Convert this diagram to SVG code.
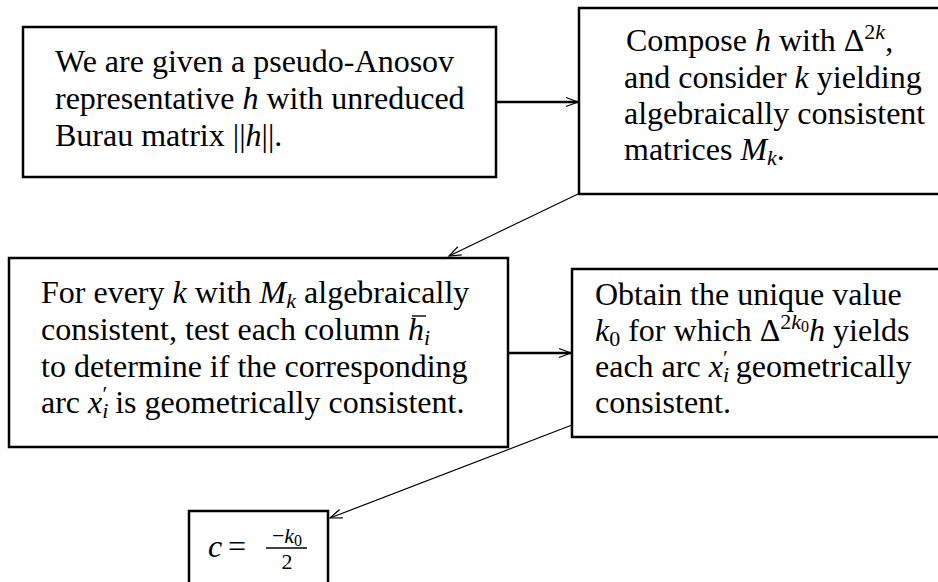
<svg xmlns="http://www.w3.org/2000/svg" width="938" height="582" viewBox="0 0 938 582">
<style>
.t{font-family:"Liberation Serif","Times New Roman",serif;font-size:32px;fill:#000}
.m{font-style:italic}
.s{font-size:22px}
.ss{font-size:16px}
.box{fill:#fff;stroke:#000;stroke-width:2.5}
.thick{stroke:#000;stroke-width:2.5;fill:none}
.thin{stroke:#000;stroke-width:1.2;fill:none}
.rule{stroke:#000;stroke-width:1.4}
</style>
<defs>
<marker id="ah" markerUnits="userSpaceOnUse" markerWidth="16" markerHeight="12" viewBox="-14 -6 16 12" refX="0" refY="0" orient="auto">
<path d="M-12,-4.5 L0,0 L-12,4.5" fill="none" stroke="#000" stroke-width="1.2"/>
</marker>
</defs>
<rect width="938" height="582" fill="#fff"/>
<g id="node-given">
<rect class="box" x="23" y="27" width="473" height="150"/>
<text class="t" x="55" y="72">We are given a pseudo-Anosov</text>
<text class="t" x="55" y="109">representative <tspan class="m">h</tspan> with unreduced</text>
<text class="t" x="55" y="146">Burau matrix ||<tspan class="m">h</tspan>||.</text>
</g>
<g id="node-compose">
<rect class="box" x="579" y="8" width="370" height="186"/>
<text class="t" x="626" y="51">Compose <tspan class="m">h</tspan> with Δ<tspan class="s" dy="-12">2</tspan><tspan class="s m">k</tspan><tspan dy="12">,</tspan></text>
<text class="t" x="624" y="88">and consider <tspan class="m">k</tspan> yielding</text>
<text class="t" x="624" y="124">algebraically consistent</text>
<text class="t" x="624" y="160">matrices <tspan class="m">M</tspan><tspan class="s m" dy="5">k</tspan><tspan dy="-5">.</tspan></text>
</g>
<g id="node-test">
<rect class="box" x="9" y="258" width="499" height="189"/>
<text class="t" x="41" y="303">For every <tspan class="m">k</tspan> with <tspan class="m">M</tspan><tspan class="s m" dy="5">k</tspan><tspan dy="-5"> algebraically</tspan></text>
<text class="t" x="41" y="340">consistent, test each column <tspan class="m">h</tspan><tspan class="s m" dy="5">i</tspan></text>
<line class="rule" x1="412" y1="316" x2="426" y2="316"/>
<text class="t" x="41" y="377">to determine if the corresponding</text>
<text class="t" x="41" y="413">arc <tspan class="m">x</tspan><tspan class="s m" dy="5">i</tspan><tspan class="s" dx="-6" dy="-17">′</tspan><tspan dy="12"> is geometrically consistent.</tspan></text>
</g>
<g id="node-obtain">
<rect class="box" x="572" y="269" width="380" height="168"/>
<text class="t" x="595" y="305">Obtain the unique value</text>
<text class="t" x="595" y="341"><tspan class="m">k</tspan><tspan class="s" dy="5">0</tspan><tspan dy="-5"> for which Δ</tspan><tspan class="s" dy="-12">2</tspan><tspan class="s m">k</tspan><tspan class="ss" dy="3">0</tspan><tspan class="m" dy="9">h</tspan> yields</text>
<text class="t" x="595" y="377">each arc <tspan class="m">x</tspan><tspan class="s m" dy="5">i</tspan><tspan class="s" dx="-6" dy="-17">′</tspan><tspan dy="12"> geometrically</tspan></text>
<text class="t" x="595" y="413">consistent.</text>
</g>
<g id="node-result">
<rect class="box" x="189" y="511" width="139" height="90"/>
<text class="t m" x="208" y="557">c</text>
<text class="t" x="228" y="557">=</text>
<text class="t s" x="287" y="543" text-anchor="middle">−<tspan class="m">k</tspan><tspan class="ss" dy="3">0</tspan></text>
<line class="rule" x1="266" y1="548" x2="307" y2="548"/>
<text class="t s" x="287" y="569" text-anchor="middle">2</text>
</g>
<g id="connectors">
<line class="thick" x1="496" y1="102" x2="578" y2="102" marker-end="url(#ah)"/>
<line class="thin" x1="578" y1="194" x2="449" y2="256" marker-end="url(#ah)"/>
<line class="thick" x1="508" y1="353" x2="571" y2="353" marker-end="url(#ah)"/>
<line class="thin" x1="572" y1="425" x2="330" y2="518" marker-end="url(#ah)"/>
</g>
</svg>
